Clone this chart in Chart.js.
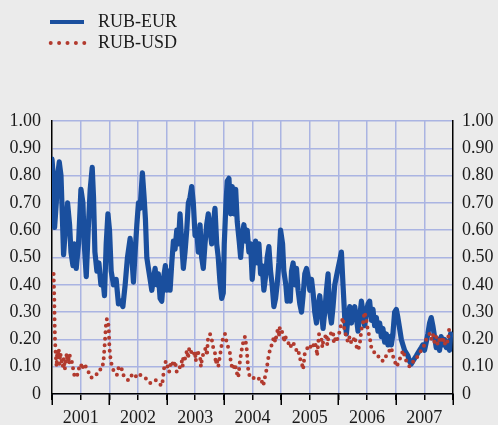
<!DOCTYPE html>
<html>
<head>
<meta charset="utf-8">
<script src="https://cdn.jsdelivr.net/npm/chart.js@4.4.1/dist/chart.umd.min.js"></script>
<style>
  html, body { margin: 0; padding: 0; background: #ebebeb; }
  canvas { display: block; }
</style>
</head>
<body>
<canvas id="chart" width="498" height="425"></canvas>
<script>
// Series names and x-axis labels
const seriesNames = ['RUB-EUR', 'RUB-USD']
const yearLabels = ['2001', '2002', '2003', '2004', '2005', '2006', '2007']

// [decimal year, value]
const rubEur = [
  [2001.000, .86], [2001.028, .78], [2001.045, .61], [2001.075, .70], [2001.098, .80], [2001.127, .85],
  [2001.157, .80], [2001.179, .66], [2001.202, .51], [2001.232, .60], [2001.272, .70], [2001.307, .62],
  [2001.331, .52], [2001.366, .47], [2001.389, .55], [2001.423, .46], [2001.463, .55], [2001.505, .75],
  [2001.540, .70], [2001.563, .55], [2001.598, .43], [2001.632, .60], [2001.667, .75], [2001.702, .83],
  [2001.725, .72], [2001.749, .52], [2001.784, .45], [2001.819, .48], [2001.854, .40], [2001.889, .42],
  [2001.916, .36], [2001.946, .55], [2001.976, .66],
  [2002.004, .60], [2002.033, .45], [2002.073, .40], [2002.120, .42], [2002.160, .33], [2002.202, .34],
  [2002.237, .32], [2002.277, .40], [2002.317, .50], [2002.364, .57], [2002.394, .50], [2002.422, .41],
  [2002.451, .52], [2002.481, .62], [2002.509, .70], [2002.538, .68], [2002.578, .81], [2002.608, .72],
  [2002.631, .64], [2002.655, .50], [2002.683, .46], [2002.713, .42], [2002.742, .38], [2002.770, .42],
  [2002.800, .46], [2002.829, .40], [2002.857, .44], [2002.887, .35], [2002.916, .34], [2002.944, .42],
  [2002.979, .47],
  [2003.004, .38], [2003.031, .45], [2003.061, .38], [2003.091, .48], [2003.119, .56], [2003.148, .53],
  [2003.178, .60], [2003.206, .55], [2003.235, .66], [2003.265, .55], [2003.293, .46], [2003.322, .52],
  [2003.352, .60], [2003.380, .70], [2003.409, .72], [2003.439, .76], [2003.467, .70], [2003.497, .58],
  [2003.526, .60], [2003.554, .52], [2003.584, .62], [2003.613, .50], [2003.641, .46], [2003.671, .55],
  [2003.700, .62], [2003.728, .66], [2003.758, .60], [2003.788, .55], [2003.815, .62], [2003.845, .68],
  [2003.875, .55], [2003.902, .50], [2003.932, .41], [2003.962, .35], [2003.990, .37],
  [2004.007, .55], [2004.037, .70], [2004.059, .78], [2004.089, .79], [2004.118, .66], [2004.146, .76],
  [2004.176, .66], [2004.206, .75], [2004.234, .63], [2004.268, .56], [2004.293, .50], [2004.321, .58],
  [2004.350, .62], [2004.380, .56], [2004.408, .60], [2004.437, .52], [2004.467, .55], [2004.495, .42],
  [2004.524, .50], [2004.554, .56], [2004.582, .48], [2004.612, .55], [2004.641, .44], [2004.669, .47],
  [2004.699, .38], [2004.728, .43], [2004.756, .50], [2004.786, .54], [2004.815, .45], [2004.843, .40],
  [2004.873, .32], [2004.903, .35], [2004.930, .40], [2004.960, .48], [2004.990, .60],
  [2005.025, .55], [2005.047, .45], [2005.082, .40], [2005.105, .34], [2005.139, .38], [2005.159, .34],
  [2005.181, .45], [2005.209, .48], [2005.239, .40], [2005.268, .46], [2005.296, .38], [2005.326, .33],
  [2005.356, .30], [2005.383, .36], [2005.413, .44], [2005.443, .46], [2005.471, .43], [2005.500, .38],
  [2005.530, .42], [2005.558, .37], [2005.587, .30], [2005.617, .26], [2005.645, .32], [2005.674, .36],
  [2005.704, .30], [2005.732, .24], [2005.761, .30], [2005.791, .38], [2005.819, .44], [2005.849, .30],
  [2005.878, .26], [2005.906, .32], [2005.936, .40], [2005.965, .43], [2005.993, .46],
  [2006.023, .49], [2006.052, .52], [2006.080, .40], [2006.110, .28], [2006.139, .22], [2006.167, .28],
  [2006.197, .32], [2006.227, .26], [2006.254, .30], [2006.284, .32], [2006.314, .28], [2006.342, .23],
  [2006.371, .28], [2006.401, .34], [2006.429, .30], [2006.458, .25], [2006.488, .30], [2006.516, .33],
  [2006.545, .34], [2006.575, .27], [2006.603, .31], [2006.632, .25], [2006.662, .28], [2006.690, .23],
  [2006.720, .26], [2006.749, .21], [2006.777, .24], [2006.807, .19], [2006.836, .22], [2006.864, .18],
  [2006.894, .21], [2006.923, .18], [2006.951, .22], [2006.981, .30],
  [2007.011, .31], [2007.038, .28], [2007.068, .24], [2007.098, .20], [2007.126, .18], [2007.155, .16],
  [2007.185, .15], [2007.213, .14], [2007.242, .12], [2007.272, .11], [2007.300, .12], [2007.329, .13],
  [2007.359, .14], [2007.387, .15], [2007.416, .16], [2007.446, .17], [2007.474, .18], [2007.503, .16],
  [2007.533, .19], [2007.561, .22], [2007.591, .26], [2007.620, .28], [2007.648, .25], [2007.678, .21],
  [2007.707, .17], [2007.735, .20], [2007.765, .16], [2007.794, .21], [2007.822, .18], [2007.852, .20],
  [2007.882, .17], [2007.909, .19], [2007.939, .16], [2007.957, .22]
]

const rubUsd = [
  [2001.028, .44], [2001.040, .35], [2001.045, .27], [2001.052, .20], [2001.061, .16], [2001.080, .10],
  [2001.090, .15], [2001.098, .13], [2001.118, .165], [2001.130, .11], [2001.145, .15], [2001.167, .12],
  [2001.188, .10], [2001.206, .13], [2001.223, .09], [2001.240, .12], [2001.258, .15], [2001.270, .12],
  [2001.284, .14], [2001.300, .11], [2001.310, .14], [2001.336, .13], [2001.362, .10], [2001.389, .07],
  [2001.415, .06], [2001.441, .07], [2001.463, .09], [2001.505, .11], [2001.530, .09], [2001.551, .11],
  [2001.592, .10], [2001.638, .08], [2001.679, .06], [2001.725, .06], [2001.772, .07], [2001.829, .09],
  [2001.871, .09], [2001.899, .12], [2001.916, .17], [2001.929, .21], [2001.941, .25], [2001.958, .275],
  [2001.981, .26], [2001.993, .23], [2001.998, .19],
  [2002.010, .15], [2002.028, .12], [2002.051, .10], [2002.085, .08], [2002.132, .07], [2002.167, .10],
  [2002.207, .10], [2002.242, .07], [2002.289, .06], [2002.329, .05], [2002.364, .055], [2002.394, .07],
  [2002.422, .065], [2002.451, .06], [2002.491, .075], [2002.538, .07], [2002.573, .065], [2002.625, .06],
  [2002.713, .04], [2002.765, .05], [2002.817, .05], [2002.887, .035], [2002.921, .03], [2002.944, .07],
  [2002.965, .11], [2002.991, .12],
  [2003.017, .10], [2003.044, .08], [2003.070, .11], [2003.096, .12], [2003.122, .10], [2003.148, .12],
  [2003.178, .08], [2003.218, .09], [2003.265, .12], [2003.280, .10], [2003.293, .14], [2003.322, .13],
  [2003.357, .16], [2003.375, .13], [2003.397, .17], [2003.439, .15], [2003.467, .14], [2003.497, .155],
  [2003.510, .12], [2003.526, .16], [2003.554, .15], [2003.584, .14], [2003.600, .10], [2003.618, .13],
  [2003.653, .155], [2003.688, .17], [2003.705, .14], [2003.722, .20], [2003.758, .22], [2003.788, .20],
  [2003.815, .17], [2003.845, .15], [2003.860, .11], [2003.875, .13], [2003.902, .10], [2003.932, .14],
  [2003.962, .18], [2003.990, .21],
  [2004.019, .22], [2004.049, .19], [2004.077, .17], [2004.106, .15], [2004.124, .11], [2004.164, .09],
  [2004.193, .11], [2004.223, .08], [2004.251, .06], [2004.281, .12], [2004.310, .16], [2004.338, .19],
  [2004.368, .21], [2004.397, .17], [2004.425, .09], [2004.455, .06], [2004.512, .06], [2004.571, .05],
  [2004.641, .06], [2004.687, .03], [2004.716, .06], [2004.746, .09], [2004.774, .13], [2004.803, .16],
  [2004.850, .19], [2004.873, .21], [2004.900, .19], [2004.920, .22], [2004.948, .24], [2004.960, .21],
  [2004.977, .245],
  [2005.007, .23], [2005.035, .22], [2005.050, .19], [2005.065, .215], [2005.094, .20], [2005.122, .19],
  [2005.152, .17], [2005.181, .18], [2005.209, .19], [2005.239, .17], [2005.268, .16], [2005.296, .165],
  [2005.326, .13], [2005.356, .12], [2005.373, .10], [2005.383, .09], [2005.413, .15], [2005.443, .16],
  [2005.471, .175], [2005.500, .18], [2005.530, .165], [2005.558, .175], [2005.587, .19], [2005.617, .165],
  [2005.627, .14], [2005.662, .22], [2005.704, .20], [2005.720, .17], [2005.732, .19], [2005.761, .205],
  [2005.791, .22], [2005.805, .18], [2005.819, .20], [2005.849, .215], [2005.878, .225], [2005.906, .23],
  [2005.920, .19], [2005.936, .205], [2005.965, .19], [2005.993, .21],
  [2006.023, .23], [2006.052, .26], [2006.080, .28], [2006.092, .255], [2006.110, .23], [2006.139, .21],
  [2006.167, .19], [2006.197, .21], [2006.227, .185], [2006.254, .19], [2006.284, .21], [2006.314, .175],
  [2006.342, .16], [2006.371, .18], [2006.401, .235], [2006.429, .26], [2006.441, .28], [2006.458, .30],
  [2006.488, .27], [2006.516, .23], [2006.545, .21], [2006.575, .17], [2006.603, .16], [2006.632, .15],
  [2006.662, .14], [2006.690, .14], [2006.720, .13], [2006.749, .13], [2006.777, .12], [2006.807, .13],
  [2006.836, .14], [2006.864, .15], [2006.894, .16], [2006.923, .17], [2006.951, .14], [2006.981, .12],
  [2007.021, .10], [2007.051, .12], [2007.098, .14], [2007.126, .16], [2007.155, .14], [2007.185, .12],
  [2007.213, .11], [2007.242, .10], [2007.277, .11], [2007.311, .12], [2007.359, .13], [2007.387, .14],
  [2007.416, .15], [2007.446, .16], [2007.474, .17], [2007.503, .18], [2007.533, .20], [2007.561, .21],
  [2007.591, .22], [2007.620, .20], [2007.648, .22], [2007.678, .19], [2007.707, .21], [2007.735, .18],
  [2007.765, .20], [2007.794, .19], [2007.822, .21], [2007.852, .18], [2007.882, .20], [2007.909, .19],
  [2007.939, .25]
]

const BLUE = '#1a4f9e'
const RED = '#b23a2e'
const GRID = '#aab4e2'
const TEXT = '#1b1b1b'
const FONT = "'Liberation Serif', 'Times New Roman', serif"

const toPoints = rows => rows.map(([x, y]) => ({ x, y }))

// legend sits above the plot, drawn by hand so it can stack on the left
const stackedLegend = {
  id: 'stackedLegend',
  afterDraw(chart) {
    const ctx = chart.ctx
    const rows = [{ ds: chart.data.datasets[0], y: 22 }, { ds: chart.data.datasets[1], y: 43 }]
    ctx.save()
    rows.forEach(({ ds, y }) => {
      const dotted = !!ds.borderDash
      ctx.beginPath()
      ctx.strokeStyle = ds.borderColor
      ctx.lineWidth = 4
      ctx.setLineDash(dotted ? [0, 8.4] : [])
      ctx.lineCap = dotted ? 'round' : 'butt'
      ctx.moveTo(dotted ? 50.7 : 50, y)
      ctx.lineTo(dotted ? 84.4 : 84, y)
      ctx.stroke()
      ctx.setLineDash([])
      ctx.fillStyle = TEXT
      ctx.font = `18px ${FONT}`
      ctx.textBaseline = 'middle'
      ctx.fillText(ds.label, 98, y)
    })
    ctx.restore()
  }
}

// longer tick marks at the year boundaries
const yearTicks = {
  id: 'yearTicks',
  afterDraw(chart) {
    const x = chart.scales.x
    const ctx = chart.ctx
    ctx.save()
    ctx.strokeStyle = '#000'
    ctx.lineWidth = 1.5
    for (let yr = 2001; yr <= 2008; yr++) {
      const px = Math.round(x.getPixelForValue(yr)) + 0.25
      ctx.beginPath()
      ctx.moveTo(px, x.top)
      ctx.lineTo(px, x.top + 11)
      ctx.stroke()
    }
    ctx.restore()
  }
}

new Chart(document.getElementById('chart'), {
  type: 'line',
  data: {
    datasets: [
      {
        label: seriesNames[0],
        data: toPoints(rubEur),
        borderColor: BLUE,
        borderWidth: 5.2,
        borderJoinStyle: 'round',
        borderCapStyle: 'round',
        pointRadius: 0,
        order: 1
      },
      {
        label: seriesNames[1],
        data: toPoints(rubUsd),
        borderColor: RED,
        borderWidth: 4,
        borderDash: [0, 6.5],
        borderCapStyle: 'round',
        pointRadius: 0,
        order: 0
      }
    ]
  },
  options: {
    responsive: false,
    animation: false,
    layout: { padding: { top: 121, left: 0, right: 0, bottom: 0 } },
    plugins: { legend: { display: false }, tooltip: { enabled: false } },
    scales: {
      x: {
        type: 'linear',
        min: 2001,
        max: 2008,
        afterFit: s => { s.height = 31 },
        ticks: {
          stepSize: 0.5,
          autoSkip: false,
          maxRotation: 0,
          padding: 7,
          color: TEXT,
          font: { family: FONT, size: 18 },
          callback: v => (v % 1 === 0.5 ? yearLabels[Math.floor(v) - 2001] : '')
        },
        grid: {
          color: c => (c.tick && (c.tick.value === 2001 || c.tick.value === 2008) ? 'rgba(0,0,0,0)' : GRID),
          lineWidth: 1.5,
          tickLength: 6,
          tickColor: '#000',
          tickWidth: 1.5
        },
        border: { color: '#000', width: 1.5 }
      },
      y: {
        position: 'left',
        min: 0,
        max: 1,
        afterFit: s => { s.width = 52 },
        ticks: {
          stepSize: 0.1,
          padding: 11,
          color: TEXT,
          font: { family: FONT, size: 18 },
          callback: v => (v === 0 ? '0' : v.toFixed(2))
        },
        grid: { color: GRID, lineWidth: 1.5, drawTicks: false },
        border: { color: '#000', width: 1.5 }
      },
      y2: {
        position: 'right',
        min: 0,
        max: 1,
        afterFit: s => { s.width = 45 },
        ticks: {
          stepSize: 0.1,
          padding: 9,
          color: TEXT,
          font: { family: FONT, size: 18 },
          callback: v => (v === 0 ? '0' : v.toFixed(2))
        },
        grid: { drawOnChartArea: false, drawTicks: false },
        border: { color: '#000', width: 1.5 }
      }
    }
  },
  plugins: [stackedLegend, yearTicks]
})
</script>
</body>
</html>
